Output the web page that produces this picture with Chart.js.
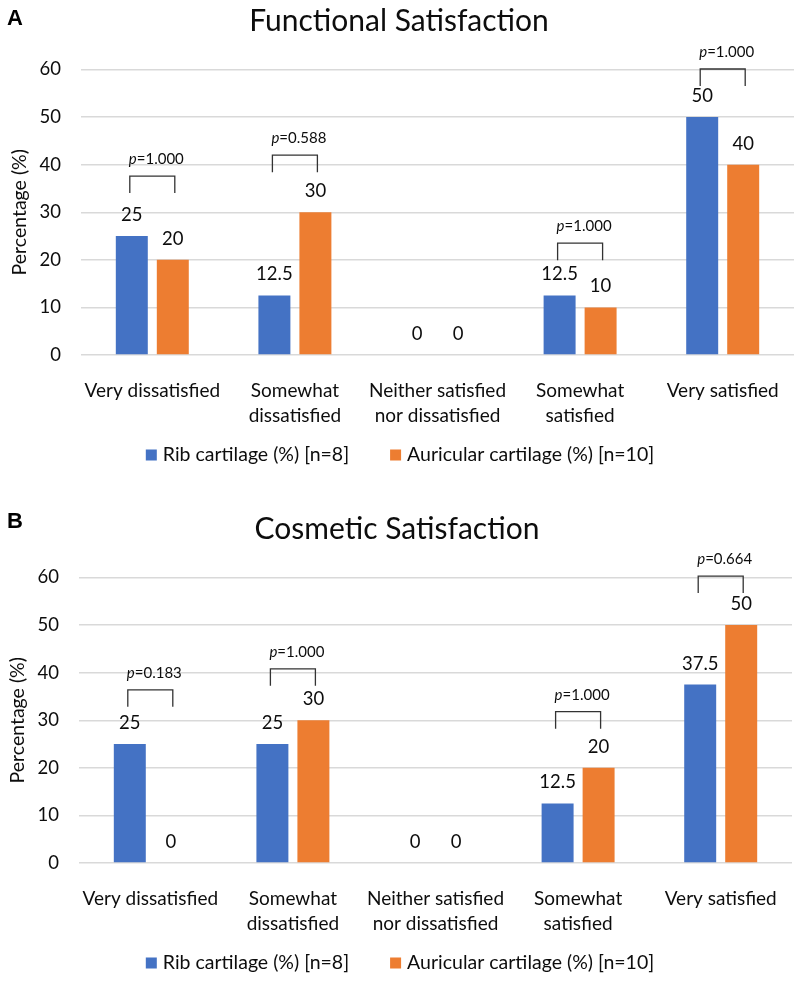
<!DOCTYPE html>
<html>
<head>
<meta charset="utf-8">
<script src="https://cdn.jsdelivr.net/npm/chart.js@4"></script>
<style>
  html, body { margin: 0; padding: 0; background: #fff; overflow: hidden; }
  #page { position: relative; width: 800px; height: 983px; overflow: hidden; }
  .panel { position: absolute; left: 0; width: 800px; height: 507px; }
  .tag { position: absolute; left: 7px; font: bold 22px "Liberation Sans", Arial, sans-serif; line-height: 22px; color: #000; }
</style>
</head>
<body>
<div id="page">
  <div class="panel" style="top:0"><canvas id="chartA" width="800" height="507"></canvas></div>
  <div class="panel" style="top:508px"><canvas id="chartB" width="800" height="507"></canvas></div>
  <div class="tag" style="top:7px">A</div>
  <div class="tag" style="top:510px">B</div>
</div>
<script>
// ── Data ──
const categories = [
  'Very dissatisfied',
  ['Somewhat', 'dissatisfied'],
  ['Neither satisfied', 'nor dissatisfied'],
  ['Somewhat', 'satisfied'],
  'Very satisfied'
];
const seriesNames = ['Rib cartilage (%) [n=8]', 'Auricular cartilage (%) [n=10]'];

const funcRib       = [25, 12.5, 0, 12.5, 50];
const funcAuricular = [20, 30, 0, 10, 40];
const funcP         = ['1.000', '0.588', null, '1.000', '1.000'];
const funcBracket   = [37.6, 42.0, null, 23.5, 60.1];   // bracket top, in %

const cosRib        = [25, 25, 0, 12.5, 37.5];
const cosAuricular  = [0, 30, 0, 20, 50];
const cosP          = ['0.183', '1.000', null, '1.000', '0.664'];
const cosBracket    = [36.4, 40.8, null, 31.8, 60.3];

const yTicks = { min: 0, max: 60, step: 10 };

const BLUE = '#4472C4';
const ORANGE = '#ED7D31';
const TEXT = '#0d0d0d';
const FONT = 'Lato, "Open Sans", sans-serif';

// ── Labels, p-value brackets, legend ──
const annotate = {
  id: 'annotate',
  afterDatasetsDraw(chart, args, opts) {
    const ctx = chart.ctx;
    const y = chart.scales.y;
    const rib = chart.getDatasetMeta(0).data;
    const aur = chart.getDatasetMeta(1).data;
    ctx.save();
    ctx.fillStyle = TEXT;
    ctx.textBaseline = 'middle';

    // value labels
    ctx.font = `18.5px ${FONT}`;
    ctx.textAlign = 'center';
    chart.data.datasets.forEach((ds, di) => {
      chart.getDatasetMeta(di).data.forEach((bar, i) => {
        ctx.fillText(String(ds.data[i]), bar.x, bar.y - 21);
      });
    });

    // brackets
    opts.brackets.forEach((top, i) => {
      if (top == null) return;
      const xl = rib[i].x - 2, xr = aur[i].x + 2;
      const yt = y.getPixelForValue(top);
      ctx.beginPath();
      ctx.moveTo(xl, yt + 17);
      ctx.lineTo(xl, yt);
      ctx.lineTo(xr, yt);
      ctx.lineTo(xr, yt + 17);
      ctx.strokeStyle = '#333';
      ctx.lineWidth = 1.3;
      ctx.stroke();

      const italic = `italic 15px ${FONT}`, normal = `15px ${FONT}`;
      const rest = '=' + opts.pValues[i];
      ctx.font = italic; const wp = ctx.measureText('p').width;
      ctx.font = normal; const wr = ctx.measureText(rest).width;
      let x = (xl + xr) / 2 + 4 - (wp + wr) / 2;
      ctx.textAlign = 'left';
      ctx.font = italic; ctx.fillText('p', x, yt - 17);
      ctx.font = normal; ctx.fillText(rest, x + wp, yt - 17);
    });

    // legend
    ctx.font = `19.5px ${FONT}`;
    ctx.textAlign = 'left';
    const box = 11, gapBox = 6, gapItem = 41;
    const items = chart.data.datasets.map(ds => ({ label: ds.label, color: ds.backgroundColor, w: ctx.measureText(ds.label).width }));
    const total = items.reduce((s, it) => s + box + gapBox + it.w, 0) + gapItem * (items.length - 1);
    let lx = chart.width / 2 - total / 2;
    const ly = chart.chartArea.bottom + 100;
    items.forEach(it => {
      ctx.fillStyle = it.color;
      ctx.fillRect(lx, ly - box / 2, box, box);
      ctx.fillStyle = TEXT;
      ctx.fillText(it.label, lx + box + gapBox, ly);
      lx += box + gapBox + it.w + gapItem;
    });
    ctx.restore();
  }
};

function makeChart(id, title, ribData, aurData, pValues, brackets, padLeft) {
  return new Chart(document.getElementById(id), {
    type: 'bar',
    data: {
      labels: categories,
      datasets: [
        { label: seriesNames[0], data: ribData, backgroundColor: BLUE, barPercentage: 0.78, categoryPercentage: 0.575 },
        { label: seriesNames[1], data: aurData, backgroundColor: ORANGE, barPercentage: 0.78, categoryPercentage: 0.575 }
      ]
    },
    options: {
      responsive: false,
      animation: false,
      layout: { padding: { left: padLeft, right: 10 - padLeft, top: 0, bottom: 0 } },
      plugins: {
        legend: { display: false },
        tooltip: { enabled: false },
        title: {
          display: true,
          text: title,
          color: TEXT,
          font: { family: FONT, size: 30, weight: 'normal', lineHeight: 1.2 },
          padding: { top: 3, bottom: 30.5 }
        },
        annotate: { brackets, pValues }
      },
      scales: {
        x: {
          grid: { display: false },
          border: { display: false },
          ticks: { color: TEXT, font: { family: FONT, size: 19, lineHeight: 1.3 }, padding: 15.6, maxRotation: 0, autoSkip: false },
          afterFit: s => { s.height = 152; }
        },
        y: {
          min: yTicks.min, max: yTicks.max,
          grid: { color: '#d9d9d9', lineWidth: 1.5, drawTicks: false },
          border: { display: false },
          ticks: { stepSize: yTicks.step, color: TEXT, font: { family: FONT, size: 18.5 }, padding: 20 },
          title: { display: true, text: 'Percentage (%)', color: TEXT, font: { family: FONT, size: 19.5, lineHeight: 1.2 }, padding: { top: 4, bottom: 4 } },
          afterFit: s => { s.width = 77; }
        }
      }
    },
    plugins: [annotate]
  });
}

makeChart('chartA', 'Functional Satisfaction', funcRib, funcAuricular, funcP, funcBracket, 4);
makeChart('chartB', 'Cosmetic Satisfaction', cosRib, cosAuricular, cosP, cosBracket, 2);
</script>
</body>
</html>
